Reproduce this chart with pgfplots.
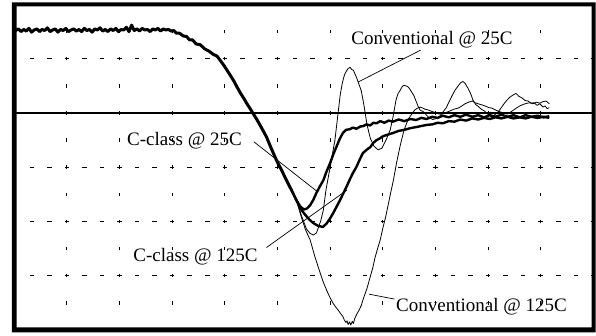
\documentclass[border=0pt]{standalone}
\usepackage{pgfplots}
\pgfplotsset{compat=1.18}
\usepackage{fontspec}
\setmainfont{Liberation Serif}
\begin{document}
\begin{tikzpicture}
\begin{axis}[
  at={(0pt,0pt)}, anchor=south west,
  scale only axis, width=579.3pt, height=325.5pt,
  xmin=0, xmax=11, ymin=-4, ymax=2,
  xtick={1,...,10}, ytick={-3,-2,-1,1},
  xticklabels={}, yticklabels={},
  tick label style={opacity=0},
  major tick length=0pt,
  grid=major,
  x grid style={black, line width=0.9pt, dash pattern=on 3.5pt off 23.625pt, dash phase=1.75pt},
  y grid style={black, line width=0.9pt, dash pattern=on 4.5pt off 13.05pt, dash phase=2.25pt},
  axis line style={draw=none},
  every axis plot/.append style={black, line join=round},
]
\fill[black] ([yshift=-1.4pt]axis cs:0,0) rectangle ([yshift=1.4pt]axis cs:11,0);
% common part (all four traces coincide)
\addplot[line width=3pt] coordinates {
(0.03,1.52)(0.08,1.55)(0.13,1.50)(0.18,1.54)(0.23,1.51)(0.28,1.56)(0.33,1.49)(0.38,1.53)(0.43,1.55)(0.48,1.50)
(0.53,1.54)(0.58,1.52)(0.63,1.57)(0.68,1.50)(0.73,1.53)(0.78,1.55)(0.83,1.49)(0.88,1.54)(0.93,1.52)(0.98,1.56)
(1.03,1.50)(1.08,1.53)(1.13,1.55)(1.18,1.51)(1.23,1.54)(1.28,1.50)(1.33,1.56)(1.38,1.52)(1.43,1.54)(1.48,1.49)
(1.53,1.55)(1.58,1.53)(1.63,1.57)(1.68,1.51)(1.73,1.54)(1.78,1.50)(1.83,1.55)(1.88,1.52)(1.93,1.56)(1.98,1.50)
(2.03,1.54)(2.08,1.53)(2.13,1.58)(2.18,1.50)(2.23,1.62)(2.28,1.52)(2.33,1.55)(2.38,1.51)(2.43,1.56)(2.48,1.53)
(2.53,1.54)(2.58,1.50)(2.63,1.55)(2.68,1.53)(2.73,1.56)(2.78,1.51)(2.83,1.55)(2.88,1.53)(2.93,1.54)
(2.98,1.51)(3.03,1.52)(3.08,1.47)(3.14,1.47)(3.21,1.42)(3.27,1.41)(3.33,1.35)(3.38,1.35)(3.46,1.27)(3.53,1.26)
(3.62,1.18)(3.70,1.14)(3.78,1.08)(3.85,1.05)(3.92,0.96)(3.98,0.88)(4.04,0.79)(4.10,0.70)
(4.17,0.59)(4.23,0.48)(4.30,0.36)(4.36,0.27)(4.42,0.17)(4.48,0.08)(4.53,0.00)(4.62,-0.14)
(4.70,-0.28)(4.79,-0.44)(4.88,-0.65)(4.98,-0.87)(5.08,-1.06)(5.17,-1.24)(5.27,-1.43)
};
% C-class @ 25C
\addplot[line width=2.4pt] coordinates {
(5.27,-1.43)(5.36,-1.61)(5.43,-1.72)(5.50,-1.78)(5.56,-1.76)(5.62,-1.70)(5.68,-1.60)(5.74,-1.47)
(5.80,-1.36)(5.87,-1.24)(5.93,-1.08)(6.00,-0.92)(6.06,-0.76)(6.12,-0.62)(6.18,-0.48)(6.24,-0.37)
(6.30,-0.31)(6.37,-0.30)(6.43,-0.27)(6.50,-0.29)(6.57,-0.25)(6.63,-0.24)(6.69,-0.21)(6.76,-0.23)
(6.82,-0.18)(6.88,-0.19)(6.95,-0.15)(7.03,-0.18)(7.11,-0.14)(7.19,-0.16)(7.30,-0.12)(7.41,-0.15)
(7.52,-0.11)(7.63,-0.13)(7.73,-0.09)(7.83,-0.11)(7.94,-0.07)(8.04,-0.09)(8.14,-0.05)(8.25,-0.08)
(8.36,-0.04)(8.47,-0.07)(8.58,-0.03)(8.70,-0.07)(8.81,-0.04)(8.92,-0.08)(9.03,-0.04)(9.14,-0.07)
(9.25,-0.03)(9.37,-0.07)(9.48,-0.04)(9.60,-0.08)(9.71,-0.04)(9.82,-0.07)(9.94,-0.05)(10.05,-0.08)
(10.16,-0.06)
};
% C-class @ 125C
\addplot[line width=2.4pt] coordinates {
(5.27,-1.43)(5.36,-1.61)(5.44,-1.77)(5.52,-1.87)(5.60,-1.96)(5.68,-2.03)(5.77,-2.08)(5.86,-2.10)
(5.93,-2.04)(6.00,-1.94)(6.06,-1.84)(6.12,-1.73)(6.19,-1.60)(6.25,-1.48)(6.31,-1.36)(6.37,-1.23)
(6.43,-1.11)(6.50,-0.99)(6.56,-0.86)(6.62,-0.74)(6.69,-0.68)(6.76,-0.63)(6.82,-0.55)(6.88,-0.50)
(6.94,-0.47)(7.00,-0.43)(7.09,-0.40)(7.19,-0.37)(7.30,-0.33)(7.41,-0.31)(7.52,-0.28)(7.63,-0.26)
(7.73,-0.24)(7.83,-0.22)(7.94,-0.21)(8.04,-0.18)(8.14,-0.19)(8.25,-0.15)(8.36,-0.16)(8.47,-0.12)
(8.58,-0.14)(8.70,-0.10)(8.81,-0.12)(8.92,-0.09)(9.03,-0.11)(9.14,-0.08)(9.25,-0.10)(9.37,-0.07)
(9.48,-0.10)(9.60,-0.08)(9.71,-0.10)(9.82,-0.07)(9.94,-0.09)(10.05,-0.07)(10.16,-0.09)
};
% Conventional @ 25C
\addplot[line width=0.8pt] coordinates {
(5.27,-1.43)(5.36,-1.61)(5.45,-1.88)(5.55,-2.14)(5.62,-2.22)(5.68,-2.25)(5.74,-2.21)(5.78,-2.10)
(5.82,-1.99)(5.87,-1.79)(5.92,-1.42)(6.00,-0.99)(6.09,-0.50)(6.15,0.00)(6.19,0.33)(6.23,0.55)
(6.27,0.70)(6.30,0.76)(6.34,0.82)(6.38,0.84)(6.41,0.80)(6.44,0.79)(6.48,0.70)(6.51,0.63)
(6.55,0.52)(6.59,0.41)(6.64,0.15)(6.70,-0.22)(6.76,-0.46)(6.83,-0.61)(6.91,-0.68)(6.98,-0.65)
(7.06,-0.50)(7.14,-0.31)(7.19,-0.09)(7.25,0.24)(7.29,0.36)(7.33,0.42)(7.37,0.49)(7.40,0.51)
(7.44,0.50)(7.48,0.48)(7.52,0.43)(7.55,0.38)(7.59,0.32)(7.63,0.22)(7.67,0.12)(7.71,0.05)
(7.76,0.03)(7.82,-0.03)(7.88,-0.09)(7.95,-0.12)(8.02,-0.10)(8.09,-0.05)(8.15,0.03)(8.20,0.09)
(8.26,0.21)(8.31,0.31)(8.37,0.42)(8.43,0.50)(8.48,0.56)(8.52,0.58)(8.56,0.55)(8.62,0.45)
(8.67,0.35)(8.71,0.24)(8.76,0.16)(8.81,0.12)(8.87,0.07)(8.94,0.03)(9.00,-0.03)(9.07,-0.07)
(9.13,-0.03)(9.19,0.02)(9.25,0.10)(9.30,0.17)(9.36,0.24)(9.41,0.29)(9.47,0.33)(9.53,0.36)
(9.58,0.31)(9.64,0.28)(9.70,0.23)(9.76,0.22)(9.81,0.18)(9.87,0.19)(9.93,0.14)(9.98,0.17)
(10.04,0.11)(10.08,0.13)(10.12,0.08)(10.16,0.10)
};
% Conventional @ 125C
\addplot[line width=0.8pt] coordinates {
(5.27,-1.43)(5.36,-1.61)(5.44,-1.88)(5.53,-2.15)(5.62,-2.34)(5.71,-2.65)(5.81,-2.95)(5.87,-3.12)
(5.93,-3.26)(5.99,-3.39)(6.05,-3.50)(6.10,-3.57)(6.15,-3.63)(6.20,-3.70)(6.24,-3.75)(6.27,-3.82)
(6.30,-3.86)(6.32,-3.83)(6.34,-3.90)(6.37,-3.85)(6.39,-3.91)(6.42,-3.84)(6.44,-3.88)(6.47,-3.78)
(6.51,-3.70)(6.55,-3.63)(6.59,-3.55)(6.62,-3.45)(6.66,-3.34)(6.70,-3.23)(6.76,-3.02)(6.81,-2.85)
(6.85,-2.67)(6.90,-2.50)(6.95,-2.34)(7.00,-2.12)(7.05,-1.93)(7.10,-1.70)(7.14,-1.51)(7.20,-1.24)
(7.26,-0.92)(7.33,-0.60)(7.40,-0.32)(7.44,-0.22)(7.48,-0.12)(7.52,-0.06)(7.57,0.01)(7.61,0.06)
(7.66,0.09)(7.71,0.11)(7.76,0.09)(7.80,0.07)(7.85,0.06)(7.90,0.04)(7.96,0.02)(8.01,0.00)
(8.07,-0.02)(8.12,-0.02)(8.20,0.01)(8.28,0.04)(8.35,0.07)(8.43,0.09)(8.50,0.13)(8.56,0.17)
(8.63,0.20)(8.70,0.22)(8.75,0.19)(8.81,0.17)(8.88,0.15)(8.94,0.13)(9.01,0.10)(9.07,0.09)
(9.15,0.05)(9.23,0.02)(9.30,0.00)(9.36,-0.02)(9.43,0.02)(9.49,0.06)(9.55,0.10)(9.60,0.13)
(9.67,0.16)(9.74,0.18)(9.80,0.19)(9.85,0.17)(9.92,0.20)(9.98,0.18)(10.04,0.21)(10.10,0.22)
(10.16,0.17)
};
% annotations
\begin{scope}[every node/.style={anchor=base west, inner sep=0pt, font=\fontsize{19pt}{22pt}\selectfont}]
\node at (axis cs:6.40,1.27) {Conventional @ 25C};
\node at (axis cs:2.14,-0.59) {C-class @ 25C};
\node at (axis cs:2.26,-2.73) {C-class @ 125C};
\node at (axis cs:7.25,-3.65) {Conventional @ 125C};
\end{scope}
\draw[line width=0.7pt] (axis cs:7.72,1.16) -- (axis cs:6.53,0.57);
\draw[line width=0.7pt] (axis cs:4.55,-0.53) -- (axis cs:5.77,-1.46);
\draw[line width=0.7pt] (axis cs:4.79,-2.48) -- (axis cs:6.32,-1.42);
\draw[line width=0.7pt] (axis cs:7.22,-3.43) -- (axis cs:6.74,-3.34);
\end{axis}
% frame of the axis area, as a filled ring
\fill[black, even odd rule]
  ([shift={(-2.3pt,-2.5pt)}]current axis.south west) rectangle ([shift={(2pt,2pt)}]current axis.north east)
  ([shift={(2.3pt,2.5pt)}]current axis.south west) rectangle ([shift={(-2pt,-2pt)}]current axis.north east);
\pgfresetboundingbox
\path[use as bounding box] (-14.2pt,-6pt) rectangle (581.8pt,330pt);
\end{tikzpicture}
\end{document}
